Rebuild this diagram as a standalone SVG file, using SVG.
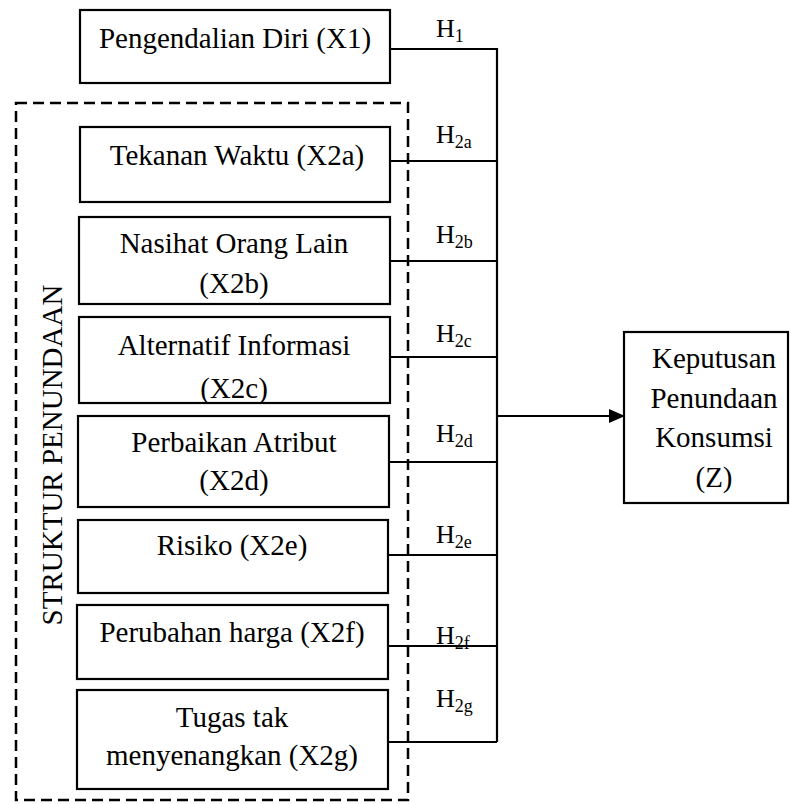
<svg xmlns="http://www.w3.org/2000/svg" width="791" height="804" viewBox="0 0 791 804">
<style>
  .box{fill:#fff;stroke:#000;stroke-width:2.2}
  text{font-family:'Liberation Serif',serif;fill:#000}
  .t{font-size:29px;text-anchor:middle}
  .h{font-size:26px}
  .s{font-size:18px}
  .c{fill:none;stroke:#000;stroke-width:2.2}
</style>
<defs>
  <marker id="arr" markerWidth="16" markerHeight="14" refX="15" refY="7" orient="auto" markerUnits="userSpaceOnUse">
    <path d="M0,0 L16,7 L0,14 Z" fill="#000"/>
  </marker>
  <clipPath id="clipX2c"><rect x="79" y="317" width="311" height="85"/></clipPath>
</defs>
<rect width="791" height="804" fill="#fff"/>

<g id="struktur-group">
  <rect x="16" y="103" width="392" height="697" fill="none" stroke="#000" stroke-width="2.5" stroke-dasharray="11 6"/>
  <text font-size="29" text-anchor="middle" transform="translate(62,455) rotate(-90)">STRUKTUR PENUNDAAN</text>
</g>

<g id="connectors">
  <path class="c" d="M390,49 H497 V742"/>
  <path class="c" d="M390,161 H497"/>
  <path class="c" d="M390,261 H497"/>
  <path class="c" d="M390,357 H497"/>
  <path class="c" d="M389,462 H497"/>
  <path class="c" d="M388,555 H497"/>
  <path class="c" d="M388,646 H497"/>
  <path class="c" d="M388,742 H497"/>
  <path class="c" d="M497,416 H624" marker-end="url(#arr)"/>
  <text class="h" x="436" y="37">H<tspan class="s" dy="5">1</tspan></text>
  <text class="h" x="436" y="143">H<tspan class="s" dy="5">2a</tspan></text>
  <text class="h" x="436" y="243">H<tspan class="s" dy="5">2b</tspan></text>
  <text class="h" x="436" y="342">H<tspan class="s" dy="5">2c</tspan></text>
  <text class="h" x="436" y="442">H<tspan class="s" dy="5">2d</tspan></text>
  <text class="h" x="436" y="543">H<tspan class="s" dy="5">2e</tspan></text>
  <text class="h" x="436" y="644">H<tspan class="s" dy="5">2f</tspan></text>
  <text class="h" x="436" y="707">H<tspan class="s" dy="5">2g</tspan></text>
</g>

<g id="X1">
  <rect class="box" x="80" y="10" width="310" height="73"/>
  <text class="t" x="235" y="48">Pengendalian Diri (X1)</text>
</g>
<g id="X2a">
  <rect class="box" x="80" y="127" width="310" height="75"/>
  <text class="t" x="237" y="165">Tekanan Waktu (X2a)</text>
</g>
<g id="X2b">
  <rect class="box" x="79" y="217" width="311" height="87"/>
  <text class="t" x="234" y="253">Nasihat Orang Lain</text>
  <text class="t" x="234" y="293">(X2b)</text>
</g>
<g id="X2c">
  <rect class="box" x="79" y="317" width="311" height="86"/>
  <text class="t" x="234" y="355">Alternatif Informasi</text>
  <text class="t" x="234" y="398" clip-path="url(#clipX2c)">(X2c)</text>
</g>
<g id="X2d">
  <rect class="box" x="78" y="416" width="311" height="91"/>
  <text class="t" x="234" y="452">Perbaikan Atribut</text>
  <text class="t" x="234" y="490">(X2d)</text>
</g>
<g id="X2e">
  <rect class="box" x="78" y="520" width="310" height="73"/>
  <text class="t" x="232" y="555">Risiko (X2e)</text>
</g>
<g id="X2f">
  <rect class="box" x="77" y="605" width="311" height="74"/>
  <text class="t" x="232" y="642">Perubahan harga (X2f)</text>
</g>
<g id="X2g">
  <rect class="box" x="77" y="690" width="311" height="99"/>
  <text class="t" x="232" y="727">Tugas tak</text>
  <text class="t" x="232" y="765">menyenangkan (X2g)</text>
</g>
<g id="Z">
  <rect class="box" x="624" y="332" width="164" height="171"/>
  <text class="t" x="714" y="368">Keputusan</text>
  <text class="t" x="714" y="408">Penundaan</text>
  <text class="t" x="714" y="447">Konsumsi</text>
  <text class="t" x="714" y="487">(Z)</text>
</g>
</svg>
